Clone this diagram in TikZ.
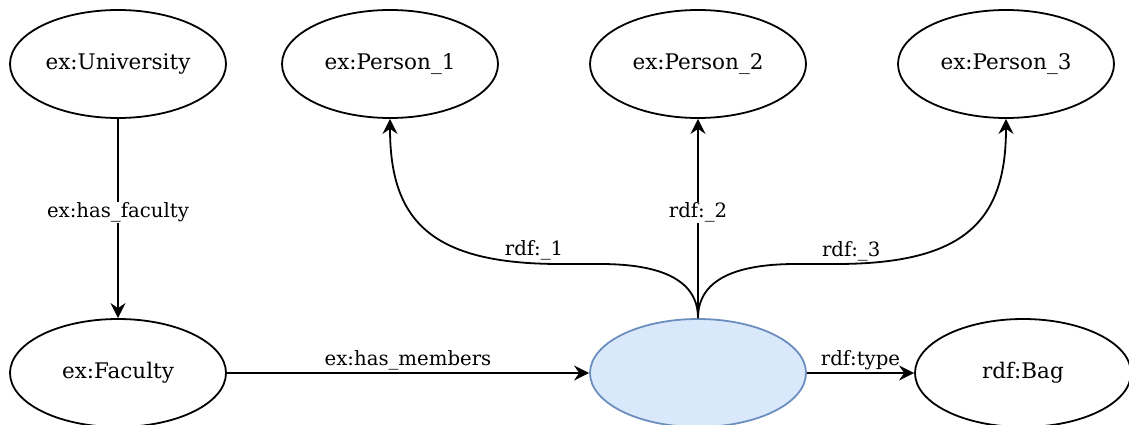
\documentclass[tikz,border=0pt]{standalone}
\usepackage{fontspec}
\setmainfont{DejaVu Serif}
\usetikzlibrary{shapes.geometric,arrows.meta}
\definecolor{bnfill}{HTML}{DAE8FC}
\definecolor{bnline}{HTML}{6C8EBF}
\tikzset{
  res/.style={ellipse, draw=black, line width=1.8pt, minimum width=216pt,
    minimum height=108pt, inner sep=0pt, font=\fontsize{21.5}{25}\selectfont},
  blank/.style={res, draw=bnline, fill=bnfill},
  rel/.style={line width=1.8pt, -{Stealth[length=15pt,width=15pt,inset=5pt]}},
  lbl/.style={font=\fontsize{19.7}{23}\selectfont, inner sep=2pt},
  onlbl/.style={lbl, fill=white, inner sep=1pt}
}
\begin{document}
\begin{tikzpicture}[x=1pt,y=-1pt]
\useasboundingbox (0,0) rectangle (1129,425);
\clip (0,0) rectangle (1129,425);

% resources
\node[res] (uni) at (118,64) {ex:University};
\node[res] (p1) at (390,64) {ex:Person\_1};
\node[res] (p2) at (698,64) {ex:Person\_2};
\node[res] (p3) at (1006,64) {ex:Person\_3};
\node[res] (fac) at (118,373) {ex:Faculty};
\node[blank] (bag) at (698,373) {};
\node[res] (bagt) at (1023,373) {rdf:Bag};

% properties
\draw[rel] (uni) -- node[onlbl, pos=0.47] {ex:has\_faculty} (fac);
\draw[rel] (fac) -- node[lbl, above] {ex:has\_members} (bag);
\draw[rel] (bag) -- node[lbl, above] {rdf:type} (bagt);
\draw[rel] (bag.north) -- node[onlbl, pos=0.53] {rdf:\_2} (p2.south);
\draw[rel] (bag.north) .. controls (698,282) and (665,264) .. (600,264)
  -- (560,264) .. controls (430,264) and (390,220) ..
  node[lbl, above, pos=0.07] {rdf:\_1} (p1.south);
\draw[rel] (bag.north) .. controls (698,282) and (731,264) .. (796,264)
  -- (836,264) .. controls (966,264) and (1006,220) ..
  node[lbl, above, pos=0.04] {rdf:\_3} (p3.south);
\end{tikzpicture}
\end{document}
